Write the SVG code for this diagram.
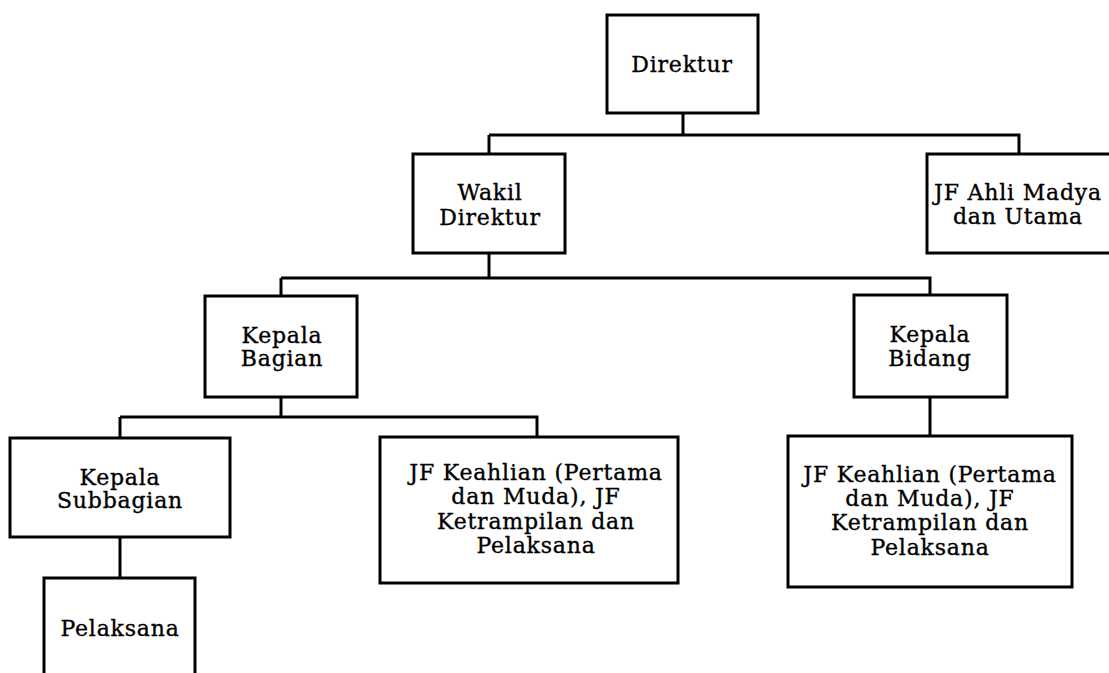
<svg xmlns="http://www.w3.org/2000/svg" width="1109" height="673" viewBox="0 0 1109 673">
<style>
.b{fill:#fff;stroke:#000;stroke-width:3}
.c{fill:none;stroke:#000;stroke-width:3}
text{font-family:"DejaVu Serif","Liberation Serif",serif;font-size:22px;letter-spacing:0.8px;fill:#000;stroke:#000;stroke-width:0.35;text-anchor:middle}
</style>
<rect width="1109" height="673" fill="#fff"/>
<g id="connectors">
<path class="c" d="M683 113V135M489 135H1019V154M489 135V154"/>
<path class="c" d="M489 253V278M281 278H930V295M281 278V296"/>
<path class="c" d="M281 397V417M120 417H537V437M120 417V438"/>
<path class="c" d="M930 397V436"/>
<path class="c" d="M120 537V578"/>
</g>
<g id="direktur"><rect class="b" x="607" y="15" width="151" height="98"/><text x="682" y="72">Direktur</text></g>
<g id="wakil"><rect class="b" x="413" y="154" width="152" height="99"/><text x="490" y="200">Wakil</text><text x="490" y="225">Direktur</text></g>
<g id="jfahli"><rect class="b" x="927" y="154" width="190" height="99"/><text x="1018" y="200">JF Ahli Madya</text><text x="1018" y="224">dan Utama</text></g>
<g id="kabag"><rect class="b" x="205" y="296" width="152" height="101"/><text x="282" y="343">Kepala</text><text x="282" y="366">Bagian</text></g>
<g id="kabid"><rect class="b" x="854" y="295" width="153" height="102"/><text x="930" y="342">Kepala</text><text x="930" y="366">Bidang</text></g>
<g id="kasubbag"><rect class="b" x="10" y="438" width="220" height="99"/><text x="120" y="485">Kepala</text><text x="120" y="508">Subbagian</text></g>
<g id="pelaksana"><rect class="b" x="44" y="578" width="151" height="110"/><text x="120" y="636">Pelaksana</text></g>
<g id="jf1"><rect class="b" x="380" y="437" width="298" height="146"/><text x="536" y="480">JF Keahlian (Pertama</text><text x="536" y="504">dan Muda), JF</text><text x="536" y="529">Ketrampilan dan</text><text x="536" y="553">Pelaksana</text></g>
<g id="jf2"><rect class="b" x="788" y="436" width="284" height="151"/><text x="930" y="482">JF Keahlian (Pertama</text><text x="930" y="506">dan Muda), JF</text><text x="930" y="530">Ketrampilan dan</text><text x="930" y="555">Pelaksana</text></g>
</svg>
